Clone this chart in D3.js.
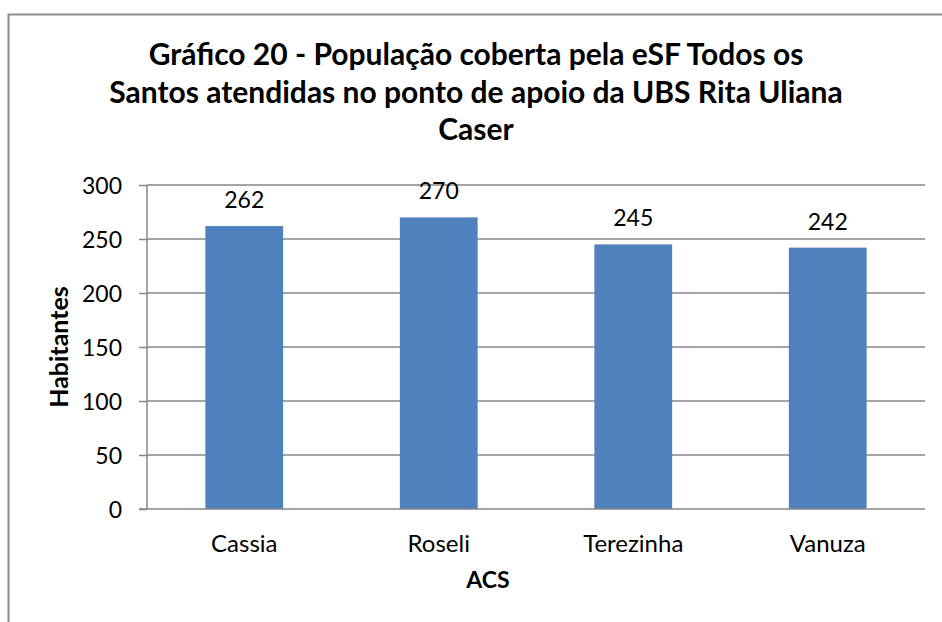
<!DOCTYPE html>
<html>
<head>
<meta charset="utf-8">
<script src="https://cdn.jsdelivr.net/npm/d3@7"></script>
<style>
  html, body { margin: 0; padding: 0; background: #fff; }
  svg { display: block; font-family: Lato, "Open Sans", sans-serif; }
</style>
</head>
<body>
<svg id="chart" width="942" height="622"></svg>
<script>
const categories = ["Cassia", "Roseli", "Terezinha", "Vanuza"];
const values = [262, 270, 245, 242];
const yTicks = [0, 50, 100, 150, 200, 250, 300];
const titleLines = [
  "Gráfico 20 - População coberta pela eSF Todos os",
  "Santos atendidas no ponto de apoio da UBS Rita Uliana",
  "Caser"
];
const xTitle = "ACS";
const yTitle = "Habitantes";

const svg = d3.select("#chart");
const plot = { left: 147, right: 925, top: 185, bottom: 509 };

// outer border (only left and top visible in crop)
svg.append("rect")
  .attr("x", 8.5).attr("y", 14.5)
  .attr("width", 960).attr("height", 640)
  .attr("fill", "none").attr("stroke", "#8c8c8c").attr("stroke-width", 2);

// title
const title = svg.append("text")
  .attr("text-anchor", "middle")
  .attr("font-weight", "bold")
  .attr("font-size", 30)
  .attr("fill", "#000");
titleLines.forEach((t, i) => {
  title.append("tspan").attr("x", 476).attr("y", 65 + i * 37.5).text(t);
});

const x = d3.scaleBand().domain(categories)
  .range([plot.left, plot.right]).paddingInner(0.6).paddingOuter(0.3);
const y = d3.scaleLinear().domain([0, 300]).range([plot.bottom, plot.top]);

// gridlines
svg.append("g").selectAll("line").data(yTicks.filter(d => d > 0)).join("line")
  .attr("x1", plot.left).attr("x2", plot.right)
  .attr("y1", d => y(d)).attr("y2", d => y(d))
  .attr("stroke", "#868686").attr("stroke-width", 1.5);

// bars
svg.append("g").selectAll("rect").data(values).join("rect")
  .attr("x", (d, i) => x(categories[i]))
  .attr("width", x.bandwidth())
  .attr("y", d => y(d))
  .attr("height", d => y(0) - y(d))
  .attr("fill", "#4F81BD");

// y axis
const yAxis = svg.append("g")
  .attr("transform", `translate(${plot.left},0)`)
  .call(d3.axisLeft(y).tickValues(yTicks).tickSize(8).tickPadding(17));
yAxis.select(".domain").attr("stroke", "#868686").attr("stroke-width", 1.5)
  .attr("d", `M0,${plot.top}V${plot.bottom}`);
yAxis.selectAll(".tick line").attr("stroke", "#868686").attr("stroke-width", 1.5);
yAxis.selectAll(".tick text").attr("font-size", 23).attr("font-family", "Lato").attr("fill", "#000")
  .attr("dy", "0.35em");

// x axis
const xAxis = svg.append("g")
  .attr("transform", `translate(0,${plot.bottom})`)
  .call(d3.axisBottom(x).tickSize(0).tickPadding(0));
xAxis.select(".domain").attr("stroke", "#868686").attr("stroke-width", 1.5)
  .attr("d", `M${plot.left - 8},0H${plot.right}`);
xAxis.selectAll(".tick text").attr("font-size", 24).attr("font-family", "Lato").attr("fill", "#000")
  .attr("dy", 0).attr("y", 43);

// data labels
svg.append("g").selectAll("text").data(values).join("text")
  .attr("x", (d, i) => x(categories[i]) + x.bandwidth() / 2)
  .attr("y", d => y(d) - 18)
  .attr("text-anchor", "middle")
  .attr("font-size", 23)
  .attr("fill", "#000")
  .text(d => d);

// axis titles
svg.append("text")
  .attr("x", 488).attr("y", 588)
  .attr("text-anchor", "middle").attr("font-weight", "bold").attr("font-size", 23)
  .text(xTitle);
svg.append("text")
  .attr("transform", `translate(68,${(plot.top + plot.bottom) / 2}) rotate(-90)`)
  .attr("text-anchor", "middle").attr("font-weight", "bold").attr("font-size", 25)
  .text(yTitle);
</script>
</body>
</html>
